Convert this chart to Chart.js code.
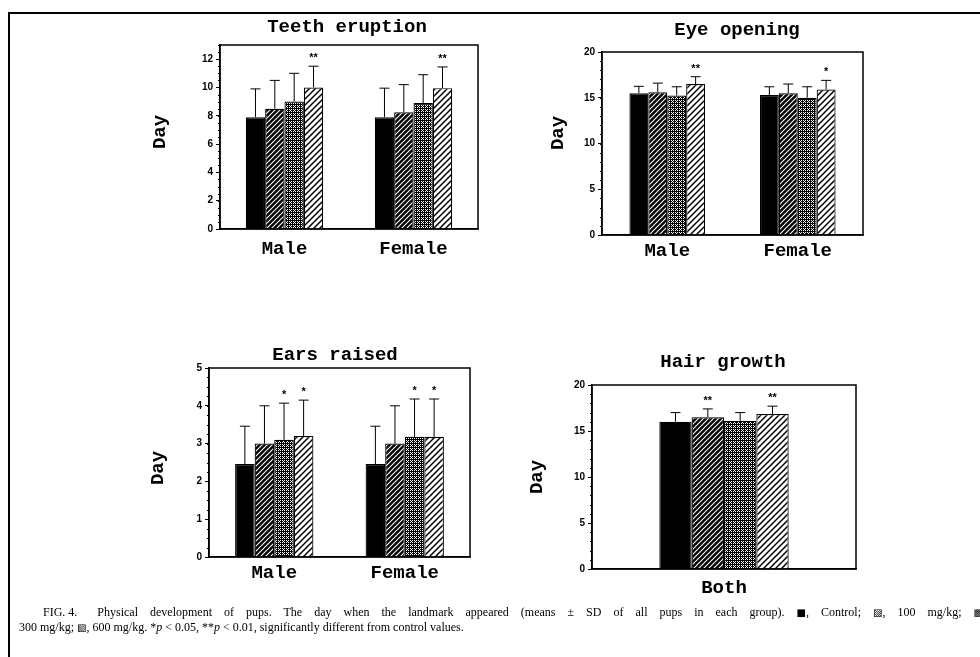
<!DOCTYPE html>
<html lang="en">
<head>
  <meta charset="UTF-8">
  <title>Fig. 4 - Physical development of pups</title>
  <script src="https://cdn.jsdelivr.net/npm/chart.js"></script>
  <style>
    html, body {
      margin: 0;
      padding: 0;
      background: #fff;
      width: 980px;
      height: 657px;
      overflow: hidden;
      position: relative;
    }
    .frame {
      position: absolute;
      left: 8px;
      top: 12px;
      width: 1000px;
      height: 700px;
      border-left: 2px solid #000;
      border-top: 2px solid #000;
    }
    canvas.panel { position: absolute; }
    .caption {
      position: absolute;
      font-family: "Liberation Serif", "DejaVu Serif", serif;
      font-size: 12px;
      line-height: 15px;
      color: #000;
      white-space: nowrap;
    }
    .caption.first {
      width: 940px;
      text-align: justify;
      text-align-last: justify;
      white-space: normal;
    }
    .nb { display: inline-block; white-space: nowrap; }
    .gap { display: inline-block; width: 20px; }
    .sym { font-family: "DejaVu Sans", sans-serif; font-size: 10px; }
  </style>
</head>
<body>
  <div class="frame"></div>

  <canvas id="teeth" class="panel"></canvas>
  <canvas id="eye" class="panel"></canvas>
  <canvas id="ears" class="panel"></canvas>
  <canvas id="hair" class="panel"></canvas>

  <div class="caption first" style="left:43px; top:605px"><span class="nb">FIG. 4.</span><span class="gap"></span>Physical development of pups. The day when the landmark appeared (means ± SD of all pups in each group). <span class="nb"><span class="sym">■</span>,</span> Control; <span class="nb"><span class="sym">▨</span>,</span> 100 mg/kg; <span class="sym">▩</span></div>
  <div class="caption" style="left:19px; top:620px">300 mg/kg; <span class="sym">▧</span>, 600 mg/kg. *<i>p</i> &lt; 0.05, **<i>p</i> &lt; 0.01, significantly different from control values.</div>

  <script>
    // dose groups (one dataset each)
    const groups = ['Control', '100 mg/kg', '300 mg/kg', '600 mg/kg'];

    // Teeth eruption
    const teethCats = ['Male', 'Female'];
    const teethMean = [[7.9, 7.9], [8.5, 8.25], [9.0, 8.9], [10.0, 9.95]];
    const teethSD = [[2.0, 2.05], [2.0, 1.95], [2.0, 2.0], [1.5, 1.5]];
    const teethStars = [['', ''], ['', ''], ['', ''], ['**', '**']];
    const teethTicks = [0, 2, 4, 6, 8, 10, 12];

    // Eye opening
    const eyeCats = ['Male', 'Female'];
    const eyeMean = [[15.5, 15.3], [15.6, 15.5], [15.25, 15.0], [16.5, 15.9]];
    const eyeSD = [[0.75, 0.9], [1.0, 1.0], [0.95, 1.2], [0.8, 1.0]];
    const eyeStars = [['', ''], ['', ''], ['', ''], ['**', '*']];
    const eyeTicks = [0, 5, 10, 15, 20];

    // Ears raised
    const earsCats = ['Male', 'Female'];
    const earsMean = [[2.46, 2.46], [3.0, 3.0], [3.1, 3.18], [3.2, 3.18]];
    const earsSD = [[1.0, 1.0], [1.0, 1.0], [0.97, 1.0], [0.95, 1.0]];
    const earsStars = [['', ''], ['', ''], ['*', '*'], ['*', '*']];
    const earsTicks = [0, 1, 2, 3, 4, 5];

    // Hair growth
    const hairCats = ['Both'];
    const hairMean = [[16.0], [16.5], [16.1], [16.85]];
    const hairSD = [[1.0], [0.9], [0.9], [0.85]];
    const hairStars = [[''], ['**'], [''], ['**']];
    const hairTicks = [0, 5, 10, 15, 20];

    // fill patterns for the four groups
    function makeTile(size, draw) {
      const c = document.createElement('canvas');
      c.width = size; c.height = size;
      const g = c.getContext('2d');
      draw(g, size);
      return g.createPattern(c, 'repeat');
    }
    function diag(g, s, color, w) {
      g.strokeStyle = color;
      g.lineWidth = w;
      g.beginPath();
      g.moveTo(-1, 1); g.lineTo(1, -1);
      g.moveTo(0, s); g.lineTo(s, 0);
      g.moveTo(s - 1, s + 1); g.lineTo(s + 1, s - 1);
      g.stroke();
    }
    const fills = [
      '#000',
      makeTile(5, (g, s) => { g.fillStyle = '#000'; g.fillRect(0, 0, s, s); diag(g, s, '#fff', 1.1); }),
      makeTile(4, (g, s) => {
        g.fillStyle = '#000'; g.fillRect(0, 0, s, s);
        g.fillStyle = '#fff';
        [[1, 1], [3, 1], [2, 2], [1, 3], [3, 3]].forEach(([i, j]) => g.fillRect(i, j, 1, 1));
      }),
      makeTile(6, (g, s) => { g.fillStyle = '#fff'; g.fillRect(0, 0, s, s); diag(g, s, '#000', 1.5); })
    ];

    const panels = [
      { id: 'teeth', cats: teethCats, mean: teethMean, sd: teethSD, stars: teethStars, ticks: teethTicks,
        yMax: 13, minor: 0.5, title: 'Teeth eruption', plot: { l: 220, t: 45, r: 478, b: 229 },
        titleAt: [347, 27], dayAt: [160, 132], catPad: 1, catPct: 0.6 },
      { id: 'eye', cats: eyeCats, mean: eyeMean, sd: eyeSD, stars: eyeStars, ticks: eyeTicks,
        yMax: 20, minor: 1, title: 'Eye opening', plot: { l: 602, t: 52, r: 863, b: 235 },
        titleAt: [737, 30], dayAt: [558, 133], catPad: -3, catPct: 0.58 },
      { id: 'ears', cats: earsCats, mean: earsMean, sd: earsSD, stars: earsStars, ticks: earsTicks,
        yMax: 5, minor: 0.25, title: 'Ears raised', plot: { l: 209, t: 368, r: 470, b: 557 },
        titleAt: [335, 355], dayAt: [158, 468], catPad: -3, catPct: 0.6 },
      { id: 'hair', cats: hairCats, mean: hairMean, sd: hairSD, stars: hairStars, ticks: hairTicks,
        yMax: 20, minor: 1, title: 'Hair growth', plot: { l: 592, t: 385, r: 856, b: 569 },
        titleAt: [723, 362], dayAt: [537, 477], catPad: 0, catPct: 0.49 }
    ];

    const MARGIN_L = 80, MARGIN_T = 45, MARGIN_R = 15, MARGIN_B = 45;
    const Y_W = 32, X_H = 40;
    const mono = '"Liberation Mono", "DejaVu Sans Mono", monospace';

    // error bars, stars, box, minor ticks, title and y label
    const extras = {
      id: 'extras',
      afterDatasetsDraw(chart, args, opts) {
        const p = opts.panel;
        const ctx = chart.ctx;
        const y = chart.scales.y;
        ctx.save();
        ctx.strokeStyle = '#000';
        ctx.fillStyle = '#000';
        ctx.lineWidth = 1;
        p.mean.forEach((series, i) => {
          const meta = chart.getDatasetMeta(i);
          series.forEach((m, j) => {
            const el = meta.data[j];
            const top = y.getPixelForValue(m + p.sd[i][j]);
            ctx.beginPath();
            ctx.moveTo(el.x, el.y);
            ctx.lineTo(el.x, top);
            ctx.moveTo(el.x - 5, top);
            ctx.lineTo(el.x + 5, top);
            ctx.stroke();
            const s = p.stars[i][j];
            if (s) {
              ctx.font = 'bold 11px "Liberation Sans", sans-serif';
              ctx.textAlign = 'center';
              ctx.textBaseline = 'alphabetic';
              ctx.fillText(s, el.x, top - 5);
            }
          });
        });
        ctx.restore();
      },
      afterDraw(chart, args, opts) {
        const p = opts.panel;
        const ctx = chart.ctx;
        const a = chart.chartArea;
        const y = chart.scales.y;
        const ox = p.plot.l - MARGIN_L, oy = p.plot.t - MARGIN_T;
        ctx.save();
        ctx.strokeStyle = '#000';
        ctx.lineWidth = 1.5;
        ctx.strokeRect(a.left, a.top, a.right - a.left, a.bottom - a.top);
        // minor ticks
        ctx.lineWidth = 1;
        ctx.beginPath();
        for (let v = 0; v <= p.yMax + 1e-6; v += p.minor) {
          const py = Math.round(y.getPixelForValue(v)) + 0.5;
          ctx.moveTo(a.left - 2, py);
          ctx.lineTo(a.left, py);
        }
        ctx.stroke();
        ctx.fillStyle = '#000';
        ctx.font = 'bold 19px ' + mono;
        ctx.textAlign = 'center';
        ctx.textBaseline = 'middle';
        ctx.fillText(p.title, p.titleAt[0] - ox, p.titleAt[1] - oy);
        ctx.translate(p.dayAt[0] - ox, p.dayAt[1] - oy);
        ctx.rotate(-Math.PI / 2);
        ctx.fillText('Day', 0, 0);
        ctx.restore();
      }
    };

    panels.forEach(p => {
      const cv = document.getElementById(p.id);
      const w = (p.plot.r - p.plot.l) + MARGIN_L + MARGIN_R;
      const h = (p.plot.b - p.plot.t) + MARGIN_T + MARGIN_B;
      cv.width = w; cv.height = h;
      cv.style.left = (p.plot.l - MARGIN_L) + 'px';
      cv.style.top = (p.plot.t - MARGIN_T) + 'px';
      cv.style.width = w + 'px';
      cv.style.height = h + 'px';

      new Chart(cv.getContext('2d'), {
        type: 'bar',
        data: {
          labels: p.cats,
          datasets: groups.map((g, i) => ({
            label: g,
            data: p.mean[i],
            backgroundColor: fills[i],
            borderColor: '#000',
            borderWidth: 1.2,
            barPercentage: 1,
            categoryPercentage: p.catPct
          }))
        },
        options: {
          responsive: false,
          animation: false,
          devicePixelRatio: 1,
          layout: { padding: { left: MARGIN_L - Y_W, top: MARGIN_T, right: MARGIN_R, bottom: MARGIN_B - X_H } },
          plugins: {
            legend: { display: false },
            tooltip: { enabled: false },
            extras: { panel: p }
          },
          scales: {
            x: {
              grid: { display: false },
              border: { display: true, color: '#000', width: 1.5 },
              ticks: { color: '#000', padding: p.catPad, font: { family: mono, size: 19, weight: 'bold' } },
              afterFit: s => { s.height = X_H; }
            },
            y: {
              min: 0,
              max: p.yMax,
              afterBuildTicks: s => { s.ticks = p.ticks.map(v => ({ value: v })); },
              grid: { drawOnChartArea: false, drawTicks: true, tickLength: 4, color: '#000' },
              border: { display: true, color: '#000', width: 1.5 },
              ticks: { color: '#000', padding: 3, font: { family: '"Liberation Sans", sans-serif', size: 10, weight: 'bold' } },
              afterFit: s => { s.width = Y_W; }
            }
          }
        },
        plugins: [extras]
      });
    });
  </script>
</body>
</html>
